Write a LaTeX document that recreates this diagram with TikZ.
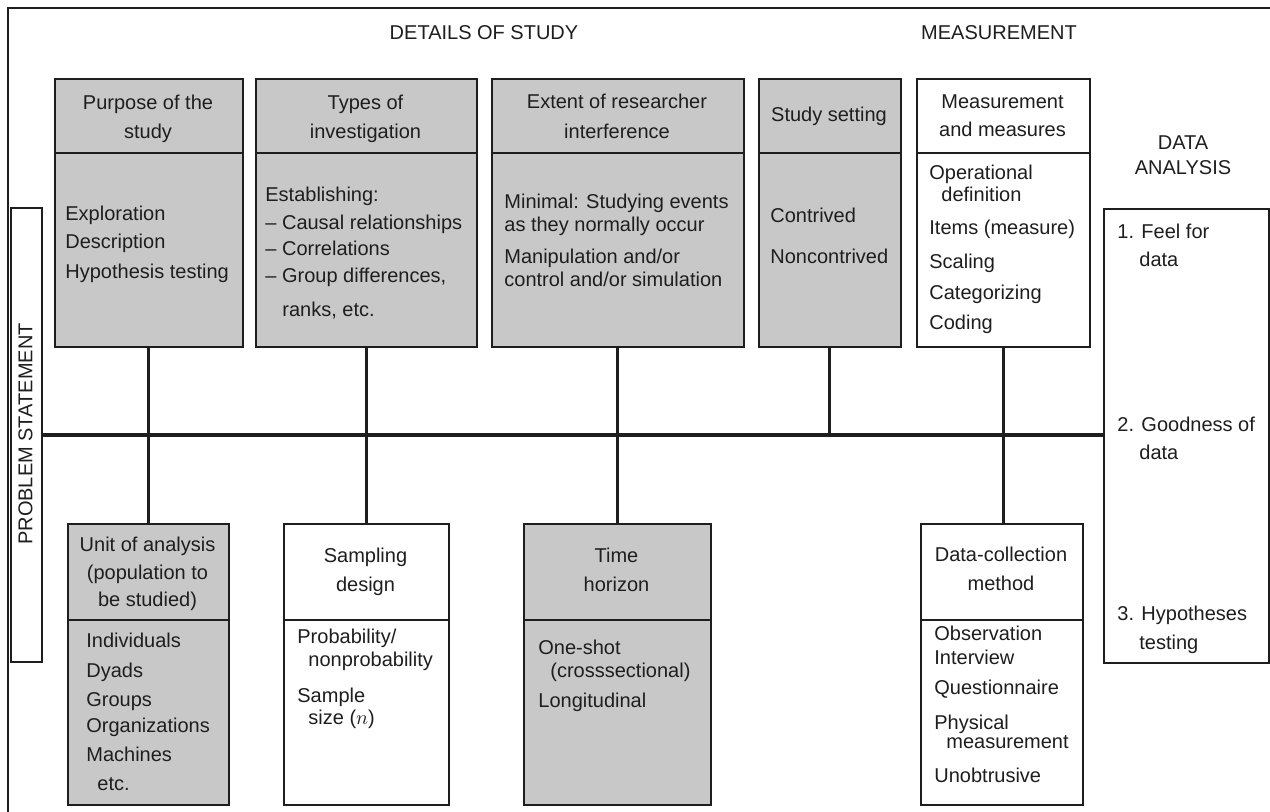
\documentclass[tikz,border=0pt]{standalone}
\usepackage{fontspec}
\setmainfont{Liberation Sans}
\definecolor{boxgray}{RGB}{200,200,200}
\definecolor{ink}{RGB}{30,30,30}
% left-aligned and centred stacks of lines; the baseline is the first line
\newcommand\leftlines[1]{\begin{tabular}[t]{@{}l@{}}#1\end{tabular}}
\newcommand\midlines[1]{\begin{tabular}[t]{@{}c@{}}#1\end{tabular}}
\newcommand\ind[1]{\hspace*{#1pt}}
% rectangle node given by its corners: style, name, x1, y1, x2, y2
\newcommand\panelbox[6]{\node[#1, minimum width={(#5-#3)*0.5pt}, minimum height={(#6-#4)*0.5pt}] (#2) at (#3,#4) {};}

\begin{document}
\begin{tikzpicture}[x=0.5pt,y=-0.5pt,
  every node/.style={font=\fontsize{10}{11}\selectfont, text=ink},
  panel/.style={draw=ink, line width=0.9pt, inner sep=0pt, anchor=north west},
  shaded/.style={panel, fill=boxgray},
  plain/.style={panel, fill=white},
  body/.style={inner sep=0pt, anchor=base west},
  head/.style={inner sep=0pt, anchor=base},
  divider/.style={draw=ink, line width=0.9pt},
  link/.style={draw=ink, line width=1.5pt},
  spine/.style={draw=ink, line width=2pt}]

\useasboundingbox (0,0) rectangle (1270,812);

% frame
\draw[ink, line width=1.2pt] (8,812) -- (8,8) -- (1270,8);

% section titles
\node[head] (details) at (484,40) {DETAILS OF STUDY};
\node[head] (measurement) at (999,40) {MEASUREMENT};
\node[head] (analysistitle) at (1183,150) {\midlines{DATA\\[1.5pt]ANALYSIS}};

% upper row of boxes
\panelbox{shaded}{purpose}{54}{78}{242}{346}
\panelbox{shaded}{types}{255}{78}{476}{346}
\panelbox{shaded}{extent}{491}{78}{743}{346}
\panelbox{shaded}{setting}{758}{78}{900}{346}
\panelbox{plain}{measures}{916}{78}{1089}{346}
\foreach \a/\b in {54/242,255/476,491/743,758/900,916/1089}
  \draw[divider] (\a,153) -- (\b,153);

% lower row of boxes
\panelbox{shaded}{unit}{67}{523}{228}{804}
\panelbox{plain}{sampling}{283}{523}{448}{804}
\panelbox{shaded}{horizon}{523}{523}{710}{804}
\panelbox{plain}{collection}{920}{523}{1082}{804}
\foreach \a/\b in {67/228,283/448,523/710,920/1082}
  \draw[divider] (\a,620) -- (\b,620);

% side boxes
\panelbox{plain}{problem}{10}{207}{41}{661}
\node[rotate=90, inner sep=0pt] (problemlabel) at (25.5,434) {PROBLEM STATEMENT};
\panelbox{plain}{analysis}{1103}{208}{1268}{662}

% connectors
\draw[spine] (problem.east) -- (problem.east -| analysis.west);
\draw[link] (purpose.south) -- (purpose.south |- unit.north);
\draw[link] (types.south) -- (types.south |- sampling.north);
\draw[link] (extent.south) -- (extent.south |- horizon.north);
\draw[link] (setting.south) -- (setting.south |- problem.east);
\draw[link] (measures.south) -- (measures.south |- collection.north);

% upper headers
\node[head] (purposehead) at (148,110) {\midlines{Purpose of the\\[3.5pt]study}};
\node[head] (typeshead) at (365.5,110) {\midlines{Types of\\[3.5pt]investigation}};
\node[head] (extenthead) at (617,109) {\midlines{Extent of researcher\\[4pt]interference}};
\node[head] (settinghead) at (829,122) {Study setting};
\node[head] (measureshead) at (1002.5,109) {\midlines{Measurement\\[3pt]and measures}};

% upper contents
\node[body] (purposebody) at (65,221) {\leftlines{Exploration\\[3pt]Description\\[4pt]Hypothesis testing}};
\node[body] (typesbody) at (265,202) {\leftlines{Establishing:\\[3pt]– Causal relationships\\[2pt]– Correlations\\[2.5pt]– Group differences,\\[6pt]\ind{8.5}ranks, etc.}};
\node[body] (extentbody) at (504,209) {\leftlines{Minimal: Studying events\\[0.5pt]as they normally occur\\[5pt]Manipulation and/or\\[0.5pt]control and/or simulation}};
\node[body] (settingbody) at (770,223) {\leftlines{Contrived\\[9.5pt]Noncontrived}};
\node[body] (measuresbody) at (929,180) {\leftlines{Operational\\\ind{6}definition\\[5.5pt]Items (measure)\\[6pt]Scaling\\[4.5pt]Categorizing\\[4pt]Coding}};

% lower headers
\node[head] (unithead) at (147.5,552) {\midlines{Unit of analysis\\[3pt](population to\\[2.5pt]be studied)}};
\node[head] (samplinghead) at (365.5,563) {\midlines{Sampling\\[3.5pt]design}};
\node[head] (horizonhead) at (616.5,563) {\midlines{Time\\[3.5pt]horizon}};
\node[head] (collectionhead) at (1001,562) {\midlines{Data-collection\\[3.5pt]method}};

% lower contents
\node[body] (unitbody) at (86,647) {\leftlines{Individuals\\[4pt]Dyads\\[3.5pt]Groups\\[2.5pt]Organizations\\[3pt]Machines\\[3.5pt]\ind{5.5}etc.}};
\node[body] (samplingbody) at (297,644) {\leftlines{Probability/\\[0.5pt]\ind{5.5}nonprobability\\[6.5pt]Sample\\\ind{5.5}size ($n$)}};
\node[body] (horizonbody) at (538,654) {\leftlines{One-shot\\[0.5pt]\ind{6}(crosssectional)\\[4pt]Longitudinal}};
\node[body] (collectionbody) at (934,640) {\leftlines{Observation\\[1pt]Interview\\[4.5pt]Questionnaire\\[6pt]Physical\\[-1pt]\ind{6}measurement\\[5.5pt]Unobtrusive}};

% data analysis steps
\node[body] (stepone) at (1117,239) {\leftlines{1. Feel for\\[3pt]\ind{11}data}};
\node[body] (steptwo) at (1117,432) {\leftlines{2. Goodness of\\[3pt]\ind{11}data}};
\node[body] (stepthree) at (1117,620) {\leftlines{3. Hypotheses\\[3.5pt]\ind{11}testing}};

\end{tikzpicture}
\end{document}
